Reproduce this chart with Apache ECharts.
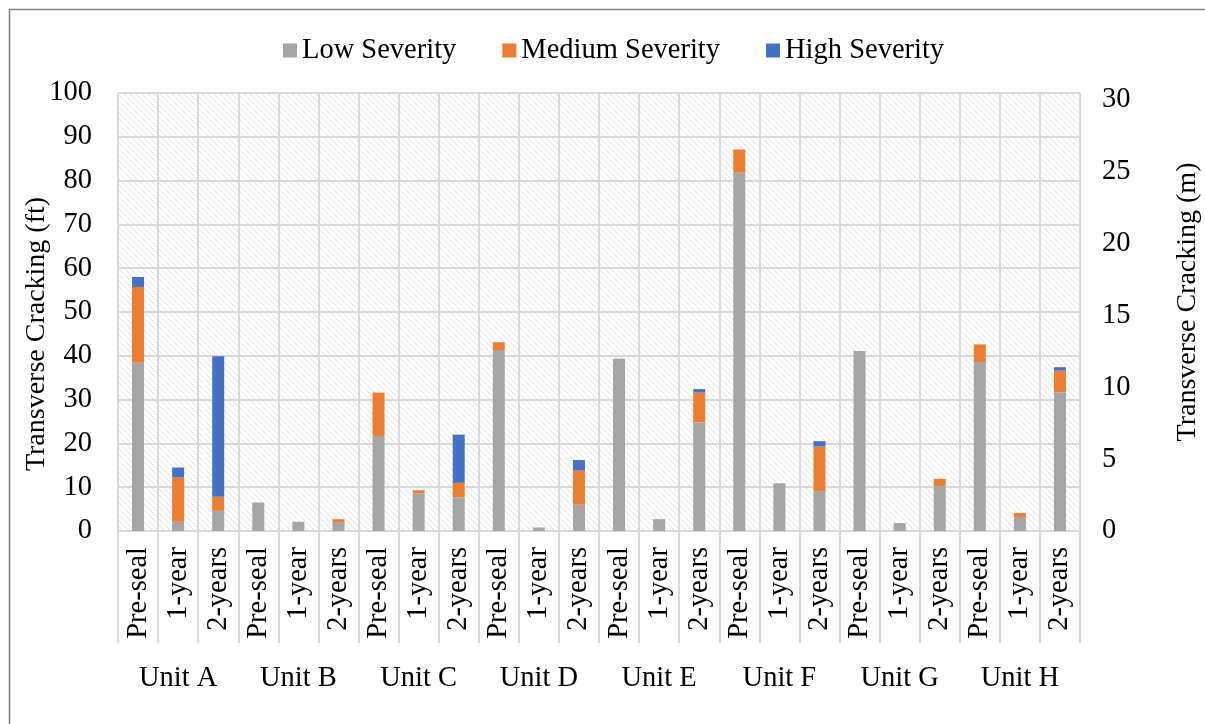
<!DOCTYPE html>
<html>
<head>
<meta charset="utf-8">
<script src="https://cdn.jsdelivr.net/npm/echarts@6/dist/echarts.min.js"></script>
<style>
html,body{margin:0;padding:0;background:#fff;}
#chart{width:1205px;height:724px;}
</style>
</head>
<body>
<div id="chart"></div>
<script>
var units = ['Unit A','Unit B','Unit C','Unit D','Unit E','Unit F','Unit G','Unit H'];
var periods = ['Pre-seal','1-year','2-years'];
var lowSeverity    = [38.4, 2.1, 4.6, 6.5, 2.1, 1.9, 21.7, 8.6, 7.7, 41.3, 0.8, 6.0, 39.3, 2.7, 24.8, 81.8, 10.9, 9.1, 41.1, 1.8, 10.2, 38.6, 3.2, 31.7];
var mediumSeverity = [17.3, 10.1, 3.2, 0, 0, 0.8, 9.9, 0.7, 3.3, 1.8, 0, 7.8, 0, 0, 6.8, 5.3, 0, 10.2, 0, 0, 1.7, 4.0, 0.9, 4.9];
var highSeverity   = [2.3, 2.3, 32.1, 0, 0, 0, 0, 0, 11.0, 0, 0, 2.4, 0, 0, 0.8, 0, 0, 1.2, 0, 0, 0, 0, 0, 0.8];
var leftTitle = 'Transverse Cracking (ft)';
var rightTitle = 'Transverse Cracking (m)';
var leftTicks = {min: 0, max: 100, interval: 10};
var rightTicks = {min: 0, max: 30.48, interval: 5};

var categories = [];
units.forEach(function(u){ periods.forEach(function(p){ categories.push(u + '|' + p); }); });

var pc = document.createElement('canvas');
pc.width = 6; pc.height = 6;
var ctx = pc.getContext('2d');
ctx.fillStyle = '#ffffff';
ctx.fillRect(0,0,6,6);
ctx.strokeStyle = '#e0e0e0';
ctx.lineWidth = 1;
ctx.beginPath();
ctx.moveTo(-1,-1); ctx.lineTo(7,7);
ctx.moveTo(-7,-1); ctx.lineTo(1,7);
ctx.moveTo(5,-1); ctx.lineTo(13,7);
ctx.stroke();

var FONT = 'Liberation Serif';
var FS = 28.5;
var grid = '#d9d9d9';
var chart = echarts.init(document.getElementById('chart'), null, {renderer:'canvas'});
chart.setOption({
  animation: false,
  backgroundColor: '#ffffff',
  textStyle: {fontFamily: FONT, color: '#000'},
  graphic: [{
    type: 'rect', left: 7, top: 7, silent: true,
    shape: {width: 1210, height: 730},
    style: {fill: 'none', stroke: '#7f7f7f', lineWidth: 1.5}
  }, {
    type: 'text', x: 37, y: 334, rotation: Math.PI / 2, silent: true,
    style: {text: leftTitle, font: '28px "Liberation Serif"', fill: '#000', align: 'center', verticalAlign: 'middle'}
  }, {
    type: 'text', x: 1188, y: 302, rotation: Math.PI / 2, silent: true,
    style: {text: rightTitle, font: '28px "Liberation Serif"', fill: '#000', align: 'center', verticalAlign: 'middle'}
  }],
  legend: {
    top: 31, left: 278,
    itemWidth: 14, itemHeight: 14, itemGap: 46,
    icon: 'rect',
    textStyle: {fontFamily: FONT, fontSize: FS, color: '#000'},
    data: ['Low Severity','Medium Severity','High Severity']
  },
  grid: {
    left: 118, right: 125, top: 93, bottom: 193,
    show: true, borderWidth: 0,
    backgroundColor: {image: pc, repeat: 'repeat'}
  },
  xAxis: [{
    type: 'category', data: categories, position: 'bottom',
    axisLine: {show: true, lineStyle: {color: grid, width: 2}},
    axisTick: {show: true, interval: 0, length: 112, lineStyle: {color: grid, width: 2}},
    splitLine: {show: true, interval: 0, lineStyle: {color: grid, width: 2}},
    axisLabel: {
      interval: 0, rotate: 90, margin: 16,
      fontFamily: FONT, fontSize: FS, color: '#000',
      formatter: function(v){ return v.split('|')[1]; }
    }
  }, {
    type: 'category', data: units, position: 'bottom', offset: 112,
    axisLine: {show: false},
    axisTick: {show: true, interval: 0, length: 52, lineStyle: {color: grid, width: 2}},
    axisLabel: {interval: 0, margin: 21, fontFamily: FONT, fontSize: FS, color: '#000'}
  }],
  yAxis: [{
    type: 'value', min: leftTicks.min, max: leftTicks.max, interval: leftTicks.interval,
    position: 'left',
    axisLine: {show: false}, axisTick: {show: false},
    splitLine: {show: true, lineStyle: {color: grid, width: 2}},
    axisLabel: {margin: 26, fontFamily: FONT, fontSize: FS, color: '#000'}
  }, {
    type: 'value', min: rightTicks.min, max: rightTicks.max, interval: rightTicks.interval,
    position: 'right',
    axisLine: {show: false}, axisTick: {show: false}, splitLine: {show: false},
    axisLabel: {margin: 22, fontFamily: FONT, fontSize: FS, color: '#000', showMaxLabel: false}
  }],
  series: [
    {name: 'Low Severity', type: 'bar', stack: 'tc', barWidth: 12, data: lowSeverity, itemStyle: {color: '#a5a5a5'}},
    {name: 'Medium Severity', type: 'bar', stack: 'tc', barWidth: 12, data: mediumSeverity, itemStyle: {color: '#ed7d31'}},
    {name: 'High Severity', type: 'bar', stack: 'tc', barWidth: 12, data: highSeverity, itemStyle: {color: '#4472c4'}}
  ]
});
</script>
</body>
</html>
